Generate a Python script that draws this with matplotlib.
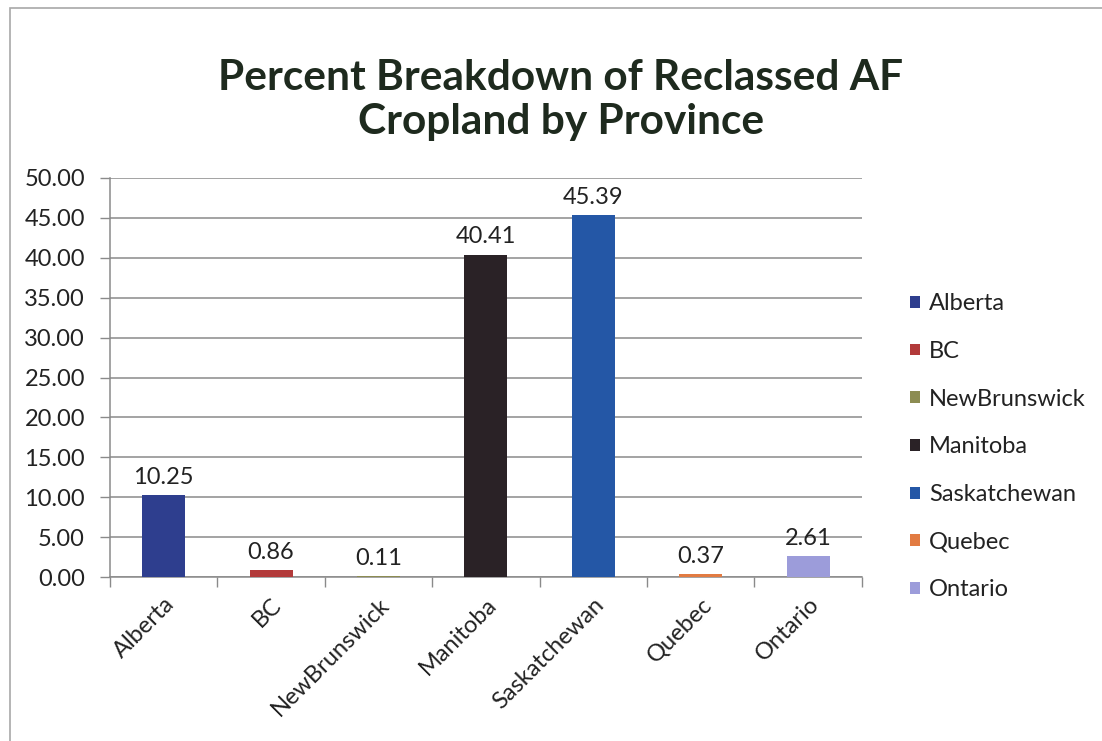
import matplotlib.pyplot as plt
from matplotlib.patches import Rectangle, Patch
import numpy as np

provinces = ["Alberta", "BC", "NewBrunswick", "Manitoba", "Saskatchewan", "Quebec", "Ontario"]
percent = [10.25, 0.86, 0.11, 40.41, 45.39, 0.37, 2.61]
colors = ["#2E3E8E", "#B23A3A", "#8C8C52", "#2A2226", "#2457A6", "#E27B42", "#9C9CDA"]
y_ticks = [0, 5, 10, 15, 20, 25, 30, 35, 40, 45, 50]
title_lines = ["Percent Breakdown of Reclassed AF", "Cropland by Province"]

plt.rcParams['font.family'] = ['Lato', 'DejaVu Sans']
FS = 17
TXT = "#222222"

fig = plt.figure(figsize=(11.02, 7.41), dpi=100)
fig.patches.append(Rectangle((0.009, -0.01), 1.2, 0.999, transform=fig.transFigure,
                             fill=False, edgecolor="#A8A8A8", linewidth=1.2))

ax = fig.add_axes([0.0998, 0.2213, 0.6822, 0.5385])
x = np.arange(len(provinces))
ax.bar(x, percent, width=0.4, color=colors, zorder=3)

for xi, v in zip(x, percent):
    ax.text(xi, v + 0.9, f"{v:.2f}", ha="center", va="bottom", fontsize=FS, color=TXT)

ax.set_xlim(-0.5, len(provinces) - 0.5)
ax.set_ylim(0, 50)
ax.set_yticks(y_ticks)
ax.set_yticklabels([f"{t:.2f}" for t in y_ticks], fontsize=FS, color=TXT)
ax.yaxis.grid(True, color="#8A8A8A", linewidth=1.1, zorder=0)
ax.tick_params(axis="y", length=7, width=1, color="#8A8A8A", pad=11)

ax.set_xticks(x)
ax.set_xticklabels(provinces, rotation=45, ha="right", rotation_mode="anchor",
                   fontsize=FS, color=TXT)
ax.tick_params(axis="x", length=0, pad=12)
ax.set_xticks(np.arange(len(provinces) + 1) - 0.5, minor=True)
ax.tick_params(axis="x", which="minor", length=7, width=1, color="#8A8A8A")

for side in ["top", "right"]:
    ax.spines[side].set_visible(False)
for side in ["left", "bottom"]:
    ax.spines[side].set_color("#8A8A8A")
    ax.spines[side].set_linewidth(1.1)

for line, yf in zip(title_lines, [0.8947, 0.836]):
    fig.text(0.509, yf, line, ha="center", va="center", fontsize=30.5,
             fontweight="bold", color="#1E2A1E")

handles = [Patch(facecolor=c, edgecolor="none") for c in colors]
leg = fig.legend(handles, provinces, loc="center left", bbox_to_anchor=(0.826, 0.397),
                 frameon=False, fontsize=FS, handlelength=0.4, handleheight=0.4,
                 handletextpad=0.4, labelspacing=1.13, borderpad=0, borderaxespad=0)
for t in leg.get_texts():
    t.set_color(TXT)

fig.savefig("out.png", dpi=100, facecolor="white")
